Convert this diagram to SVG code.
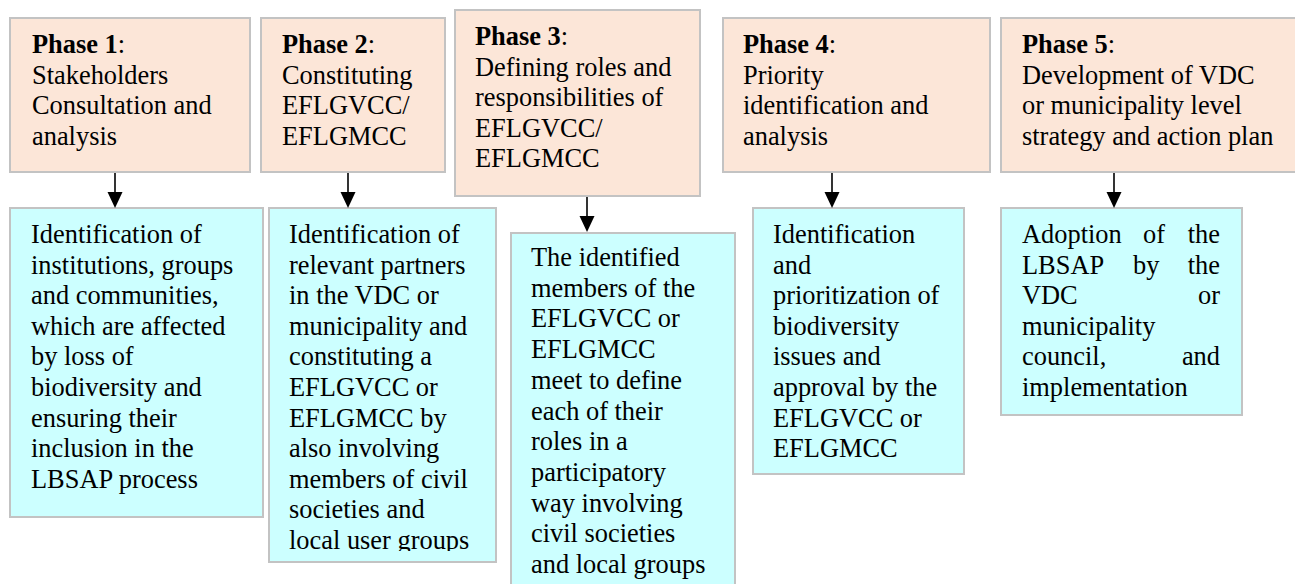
<svg xmlns="http://www.w3.org/2000/svg" width="1295" height="584" viewBox="0 0 1295 584">
<style>
.phase{fill:#FCE6D8;stroke:#C3C3C3;stroke-width:2}
.act{fill:#CCFFFF;stroke:#C3C3C3;stroke-width:2}
text{font-family:"Liberation Serif","Times New Roman",serif;font-size:26.4px;fill:#000}
.b{font-weight:bold}
.conn line{stroke:#000;stroke-width:1.6}
</style>
<defs>
<marker id="ah" markerUnits="userSpaceOnUse" markerWidth="16" markerHeight="16" refX="8" refY="8" orient="auto" viewBox="0 0 16 16">
<path d="M0,0.5 L16,8 L0,15.5 z" fill="#000"/>
</marker>
<clipPath id="c2"><rect x="269" y="208" width="227" height="343"/></clipPath>
</defs>
<rect width="1295" height="584" fill="#fff"/>

<g id="phase1">
<rect class="phase" x="10" y="18" width="240" height="154"/>
<text><tspan x="32" y="53"><tspan class="b">Phase 1</tspan>:</tspan><tspan x="32" y="83.6">Stakeholders</tspan><tspan x="32" y="114.2">Consultation and</tspan><tspan x="32" y="144.8">analysis</tspan></text>
</g>
<g id="phase2">
<rect class="phase" x="261" y="18" width="184" height="154"/>
<text><tspan x="282" y="53"><tspan class="b">Phase 2</tspan>:</tspan><tspan x="282" y="83.6">Constituting</tspan><tspan x="282" y="114.2">EFLGVCC/</tspan><tspan x="282" y="144.8">EFLGMCC</tspan></text>
</g>
<g id="phase3">
<rect class="phase" x="455" y="10" width="245" height="186"/>
<text><tspan x="475" y="45"><tspan class="b">Phase 3</tspan>:</tspan><tspan x="475" y="75.6">Defining roles and</tspan><tspan x="475" y="106.2">responsibilities of</tspan><tspan x="475" y="136.8">EFLGVCC/</tspan><tspan x="475" y="167.4">EFLGMCC</tspan></text>
</g>
<g id="phase4">
<rect class="phase" x="723" y="18" width="267" height="154"/>
<text><tspan x="743" y="53"><tspan class="b">Phase 4</tspan>:</tspan><tspan x="743" y="83.6">Priority</tspan><tspan x="743" y="114.2">identification and</tspan><tspan x="743" y="144.8">analysis</tspan></text>
</g>
<g id="phase5">
<rect class="phase" x="1001" y="18" width="300" height="154"/>
<text><tspan x="1022" y="53"><tspan class="b">Phase 5</tspan>:</tspan><tspan x="1022" y="83.6">Development of VDC</tspan><tspan x="1022" y="114.2">or municipality level</tspan><tspan x="1022" y="144.8">strategy and action plan</tspan></text>
</g>

<g id="activity1">
<rect class="act" x="10" y="208" width="253" height="309"/>
<text><tspan x="31" y="243">Identification of</tspan><tspan x="31" y="273.6">institutions, groups</tspan><tspan x="31" y="304.2">and communities,</tspan><tspan x="31" y="334.8">which are affected</tspan><tspan x="31" y="365.4">by loss of</tspan><tspan x="31" y="396">biodiversity and</tspan><tspan x="31" y="426.6">ensuring their</tspan><tspan x="31" y="457.2">inclusion in the</tspan><tspan x="31" y="487.8">LBSAP process</tspan></text>
</g>
<g id="activity2">
<rect class="act" x="269" y="208" width="227" height="354"/>
<text clip-path="url(#c2)"><tspan x="289" y="243">Identification of</tspan><tspan x="289" y="273.6">relevant partners</tspan><tspan x="289" y="304.2">in the VDC or</tspan><tspan x="289" y="334.8">municipality and</tspan><tspan x="289" y="365.4">constituting a</tspan><tspan x="289" y="396">EFLGVCC or</tspan><tspan x="289" y="426.6">EFLGMCC by</tspan><tspan x="289" y="457.2">also involving</tspan><tspan x="289" y="487.8">members of civil</tspan><tspan x="289" y="518.4">societies and</tspan><tspan x="289" y="549">local user groups</tspan></text>
</g>
<g id="activity3">
<rect class="act" x="511" y="233" width="224" height="380"/>
<text><tspan x="531" y="266">The identified</tspan><tspan x="531" y="296.7">members of the</tspan><tspan x="531" y="327.4">EFLGVCC or</tspan><tspan x="531" y="358.1">EFLGMCC</tspan><tspan x="531" y="388.8">meet to define</tspan><tspan x="531" y="419.5">each of their</tspan><tspan x="531" y="450.2">roles in a</tspan><tspan x="531" y="480.9">participatory</tspan><tspan x="531" y="511.6">way involving</tspan><tspan x="531" y="542.3">civil societies</tspan><tspan x="531" y="573">and local groups</tspan></text>
</g>
<g id="activity4">
<rect class="act" x="753" y="208" width="211" height="266"/>
<text><tspan x="773" y="243">Identification</tspan><tspan x="773" y="273.6">and</tspan><tspan x="773" y="304.2">prioritization of</tspan><tspan x="773" y="334.8">biodiversity</tspan><tspan x="773" y="365.4">issues and</tspan><tspan x="773" y="396">approval by the</tspan><tspan x="773" y="426.6">EFLGVCC or</tspan><tspan x="773" y="457.2">EFLGMCC</tspan></text>
</g>
<g id="activity5">
<rect class="act" x="1001" y="208" width="241" height="207"/>
<text><tspan x="1022" y="243">Adoption</tspan><tspan x="1143" y="243">of</tspan><tspan x="1220" y="243" text-anchor="end">the</tspan><tspan x="1022" y="273.6">LBSAP</tspan><tspan x="1133" y="273.6">by</tspan><tspan x="1220" y="273.6" text-anchor="end">the</tspan><tspan x="1022" y="304.2">VDC</tspan><tspan x="1220" y="304.2" text-anchor="end">or</tspan><tspan x="1022" y="334.8">municipality</tspan><tspan x="1022" y="365.4">council,</tspan><tspan x="1220" y="365.4" text-anchor="end">and</tspan><tspan x="1022" y="396">implementation</tspan></text>
</g>

<g id="connectors" class="conn">
<line x1="115" y1="173" x2="115" y2="200" marker-end="url(#ah)"/>
<line x1="348" y1="173" x2="348" y2="200" marker-end="url(#ah)"/>
<line x1="587" y1="197" x2="587" y2="224" marker-end="url(#ah)"/>
<line x1="832" y1="173" x2="832" y2="200" marker-end="url(#ah)"/>
<line x1="1114" y1="173" x2="1114" y2="200" marker-end="url(#ah)"/>
</g>
</svg>
